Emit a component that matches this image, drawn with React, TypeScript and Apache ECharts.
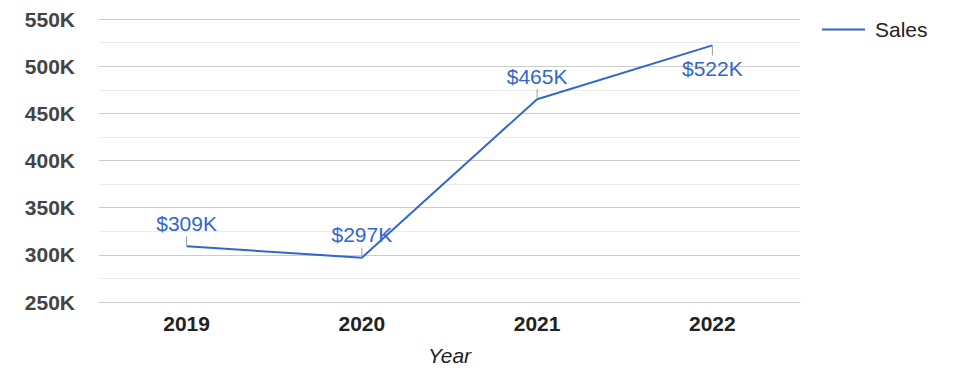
import React, { useEffect, useRef } from "react";
import * as echarts from "echarts";

const years = ["2019", "2020", "2021", "2022"];
const sales = [309000, 297000, 465000, 522000];
const labelSides = ["top", "top", "top", "bottom"];
const yTicks = { min: 250000, max: 550000, interval: 50000 };

const FONT = "'Liberation Sans', Arial, sans-serif";
const BLUE = "#3366cc";

export default function App() {
  const ref = useRef<HTMLDivElement>(null);
  useEffect(() => {
    if (!ref.current) return;
    const chart = echarts.init(ref.current, null, { renderer: "svg" });
    chart.setOption({
      animation: false,
      backgroundColor: "#ffffff",
      textStyle: { fontFamily: FONT },
      grid: { left: 99, right: 175, top: 19, bottom: 76, containLabel: false },
      legend: {
        show: true,
        left: 817,
        top: 14,
        data: [{ name: "Sales", icon: "rect" }],
        itemWidth: 43,
        itemHeight: 2,
        textStyle: { fontFamily: FONT, fontSize: 21, color: "#222", padding: [0, 0, 0, 5] },
      },
      xAxis: {
        type: "category",
        data: years,
        boundaryGap: true,
        axisLine: { show: true, lineStyle: { color: "#cccccc", width: 1 } },
        axisTick: { show: false },
        axisLabel: { fontFamily: FONT, fontSize: 21, fontWeight: "bold", color: "#222", margin: 11 },
        name: "Year",
        nameLocation: "middle",
        nameGap: 43,
        nameTextStyle: { fontFamily: FONT, fontSize: 21, fontStyle: "italic", color: "#222" },
        splitLine: { show: false },
      },
      yAxis: {
        type: "value",
        min: yTicks.min,
        max: yTicks.max,
        interval: yTicks.interval,
        axisLine: { show: false },
        axisTick: { show: false },
        axisLabel: {
          fontFamily: FONT,
          fontSize: 21,
          fontWeight: "bold",
          color: "#444",
          margin: 24,
          formatter: (v: number) => v / 1000 + "K",
        },
        splitLine: { show: true, lineStyle: { color: "#cccccc", width: 1 } },
        minorTick: { show: false, splitNumber: 2 },
        minorSplitLine: { show: true, lineStyle: { color: "#ebebeb", width: 1 } },
      },
      series: [
        {
          name: "Sales",
          type: "line",
          data: sales,
          showSymbol: false,
          symbol: "none",
          lineStyle: { color: BLUE, width: 2 },
          itemStyle: { color: BLUE },
          z: 2,
        },
        {
          name: "annotations",
          type: "custom",
          data: sales.map((v, i) => [i, v]),
          z: 3,
          silent: true,
          renderItem: (params: any, api: any) => {
            const idx = params.dataIndex;
            const v = api.value(1);
            const p = api.coord([api.value(0), v]);
            const dir = labelSides[idx] === "bottom" ? 1 : -1;
            return {
              type: "group",
              children: [
                {
                  type: "line",
                  shape: { x1: p[0], y1: p[1], x2: p[0], y2: p[1] + dir * 10 },
                  style: { stroke: "#999999", lineWidth: 1 },
                },
                {
                  type: "text",
                  x: p[0],
                  y: p[1] + dir * 23,
                  style: {
                    text: "$" + Math.round(v / 1000) + "K",
                    fill: BLUE,
                    font: "21px " + FONT,
                    align: "center",
                    verticalAlign: "middle",
                  },
                },
              ],
            };
          },
        },
      ],
    });
    return () => chart.dispose();
  }, []);
  return (
    <div
      ref={ref}
      style={{ position: "fixed", left: 0, top: 0, width: 975, height: 378 }}
    />
  );
}
